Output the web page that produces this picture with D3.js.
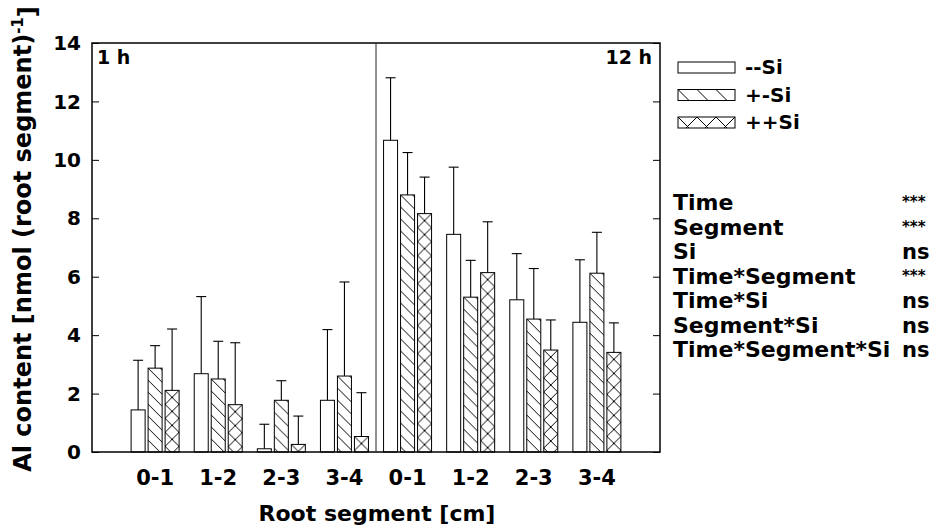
<!DOCTYPE html>
<html>
<head>
<meta charset="utf-8">
<script src="https://cdn.jsdelivr.net/npm/d3@7"></script>
<style>
  body { margin: 0; background: #fff; }
  svg { display: block; }
  text { font-family: "DejaVu Sans", "Liberation Sans", Arial, sans-serif; font-weight: bold; fill: #000; }
</style>
</head>
<body>
<svg id="chart" width="933" height="532"></svg>
<script>
// ---- data ----
const times = ["1 h", "12 h"];
const segments = ["0-1", "1-2", "2-3", "3-4"];
const series = ["--Si", "+-Si", "++Si"];
// means, per time then segment, order: --Si, +-Si, ++Si
const means1h  = [[1.44, 2.87, 2.11], [2.68, 2.50, 1.62], [0.11, 1.77, 0.26], [1.77, 2.60, 0.53]];
const errTop1h = [[3.14, 3.64, 4.21], [5.32, 3.79, 3.74], [0.95, 2.44, 1.23], [4.19, 5.82, 2.03]];
const means12h  = [[10.67, 8.80, 8.16], [7.45, 5.30, 6.14], [5.21, 4.55, 3.49], [4.44, 6.12, 3.41]];
const errTop12h = [[12.81, 10.25, 9.41], [9.75, 6.56, 7.88], [6.79, 6.28, 4.52], [6.58, 7.52, 4.42]];
const yTicks = [0, 2, 4, 6, 8, 10, 12, 14];
const statTerms = ["Time", "Segment", "Si", "Time*Segment", "Time*Si", "Segment*Si", "Time*Segment*Si"];
const statSig = ["***", "***", "ns", "***", "ns", "ns", "ns"];

// ---- layout ----
const svg = d3.select("#chart");
const L = 92, R = 660, T = 43, B = 452;

const keys = [];
times.forEach(t => segments.forEach(s => keys.push(t + "|" + s)));
const x = d3.scalePoint().domain(keys).range([L, R]).padding(1);
const xs = d3.scaleBand().domain(series).range([-24, 24]).paddingInner(0.176).paddingOuter(0);
const y = d3.scaleLinear().domain([0, 14]).range([B, T]);

const rows = [];
[[means1h, errTop1h], [means12h, errTop12h]].forEach(([m, e], ti) => {
  segments.forEach((s, si) => {
    series.forEach((sr, k) => {
      rows.push({ key: times[ti] + "|" + s, series: sr, k, v: m[si][k], e: e[si][k] });
    });
  });
});

// patterns
const defs = svg.append("defs");
function addPattern(id, kind, ox, oy, size) {
  const p = defs.append("pattern").attr("id", id)
    .attr("patternUnits", "userSpaceOnUse")
    .attr("x", ox).attr("y", oy)
    .attr("width", size).attr("height", size);
  p.append("rect").attr("width", size).attr("height", size).attr("fill", "#fff");
  const ln = (x1, y1, x2, y2) => p.append("line").attr("x1", x1).attr("y1", y1).attr("x2", x2).attr("y2", y2)
    .attr("stroke", "#000").attr("stroke-width", 1);
  if (kind === 1) {
    ln(-1, -1, size + 1, size + 1);
    ln(-1, size - 1, 1, size + 1);
    ln(size - 1, -1, size + 1, 1);
  } else if (kind === 2) {
    ln(0, 0, size, size);
    ln(size, 0, 0, size);
  }
}

const g = svg.append("g");
rows.forEach((d, i) => {
  const bx = x(d.key) + xs(d.series);
  const bw = xs.bandwidth();
  let fill = "#fff";
  if (d.k > 0) {
    const id = "pat" + i;
    addPattern(id, d.k, bx, y(d.v), d.k === 1 ? 12 : 14);
    fill = "url(#" + id + ")";
  }
  const cx = bx + bw / 2;
  g.append("line").attr("x1", cx).attr("x2", cx).attr("y1", y(d.v)).attr("y2", y(d.e))
    .attr("stroke", "#000").attr("stroke-width", 1.1);
  g.append("line").attr("x1", cx - 5).attr("x2", cx + 5).attr("y1", y(d.e)).attr("y2", y(d.e))
    .attr("stroke", "#000").attr("stroke-width", 1.1);
  g.append("rect").attr("x", bx).attr("y", y(d.v)).attr("width", bw).attr("height", y(0) - y(d.v))
    .attr("fill", fill).attr("stroke", "#000").attr("stroke-width", 1);
});

// frame
svg.append("rect").attr("x", L).attr("y", T).attr("width", R - L).attr("height", B - T)
  .attr("fill", "none").attr("stroke", "#000").attr("stroke-width", 1.5);
const midX = (x(keys[3]) + x(keys[4])) / 2;
svg.append("line").attr("x1", midX).attr("x2", midX).attr("y1", T).attr("y2", B)
  .attr("stroke", "#222").attr("stroke-width", 1);

// y axes (ticks inward)
const gl = svg.append("g").attr("transform", `translate(${L},0)`)
  .call(d3.axisRight(y).tickValues(yTicks).tickSize(7).tickFormat(""));
gl.select(".domain").remove();
const gr = svg.append("g").attr("transform", `translate(${R},0)`)
  .call(d3.axisLeft(y).tickValues(yTicks).tickSize(7).tickFormat(""));
gr.select(".domain").remove();
svg.selectAll(".tick line").attr("stroke", "#000").attr("stroke-width", 1);

// y tick labels
svg.append("g").selectAll("text").data(yTicks).join("text")
  .attr("x", 81).attr("y", d => y(d)).attr("dy", "0.36em")
  .attr("text-anchor", "end").style("font-size", "20px").text(d => d);

// x tick labels
svg.append("g").selectAll("text").data(keys).join("text")
  .attr("x", d => x(d)).attr("y", 485).attr("text-anchor", "middle")
  .style("font-size", "21px").text(d => d.split("|")[1]);

// panel labels
svg.append("text").attr("x", 97).attr("y", 64).style("font-size", "19px").text(times[0]);
svg.append("text").attr("x", 652).attr("y", 64).attr("text-anchor", "end").style("font-size", "19px").text(times[1]);

// axis titles
svg.append("text").attr("x", 377).attr("y", 521).attr("text-anchor", "middle")
  .style("font-size", "22px").text("Root segment [cm]");
const yt = svg.append("text").attr("transform", "translate(31,239) rotate(-90)")
  .attr("text-anchor", "middle").style("font-size", "24px");
yt.append("tspan").text("Al content [nmol (root segment)");
yt.append("tspan").attr("dy", "-0.55em").style("font-size", "15px").text("-1");
yt.append("tspan").attr("dy", "0.55em").text("]");

// legend
const lg = svg.append("g");
series.forEach((s, k) => {
  const ly = 62 + k * 27.5;
  let fill = "#fff";
  if (k > 0) {
    const id = "legpat" + k;
    addPattern(id, k, 678, ly, 19);
    fill = "url(#" + id + ")";
  }
  lg.append("rect").attr("x", 678).attr("y", ly).attr("width", 57).attr("height", 11)
    .attr("fill", fill).attr("stroke", "#000").attr("stroke-width", 1);
  lg.append("text").attr("x", 745).attr("y", ly + 12).style("font-size", "20px").text(s);
});

// statistics
const st = svg.append("g");
statTerms.forEach((t, i) => {
  const by = 210 + i * 24.5;
  st.append("text").attr("x", 673).attr("y", by).style("font-size", "22px").text(t);
  const isStar = statSig[i] === "***";
  st.append("text").attr("x", 902).attr("y", by - (isStar ? 3 : 0))
    .style("font-size", isStar ? "15px" : "21px").text(statSig[i]);
});
</script>
</body>
</html>
